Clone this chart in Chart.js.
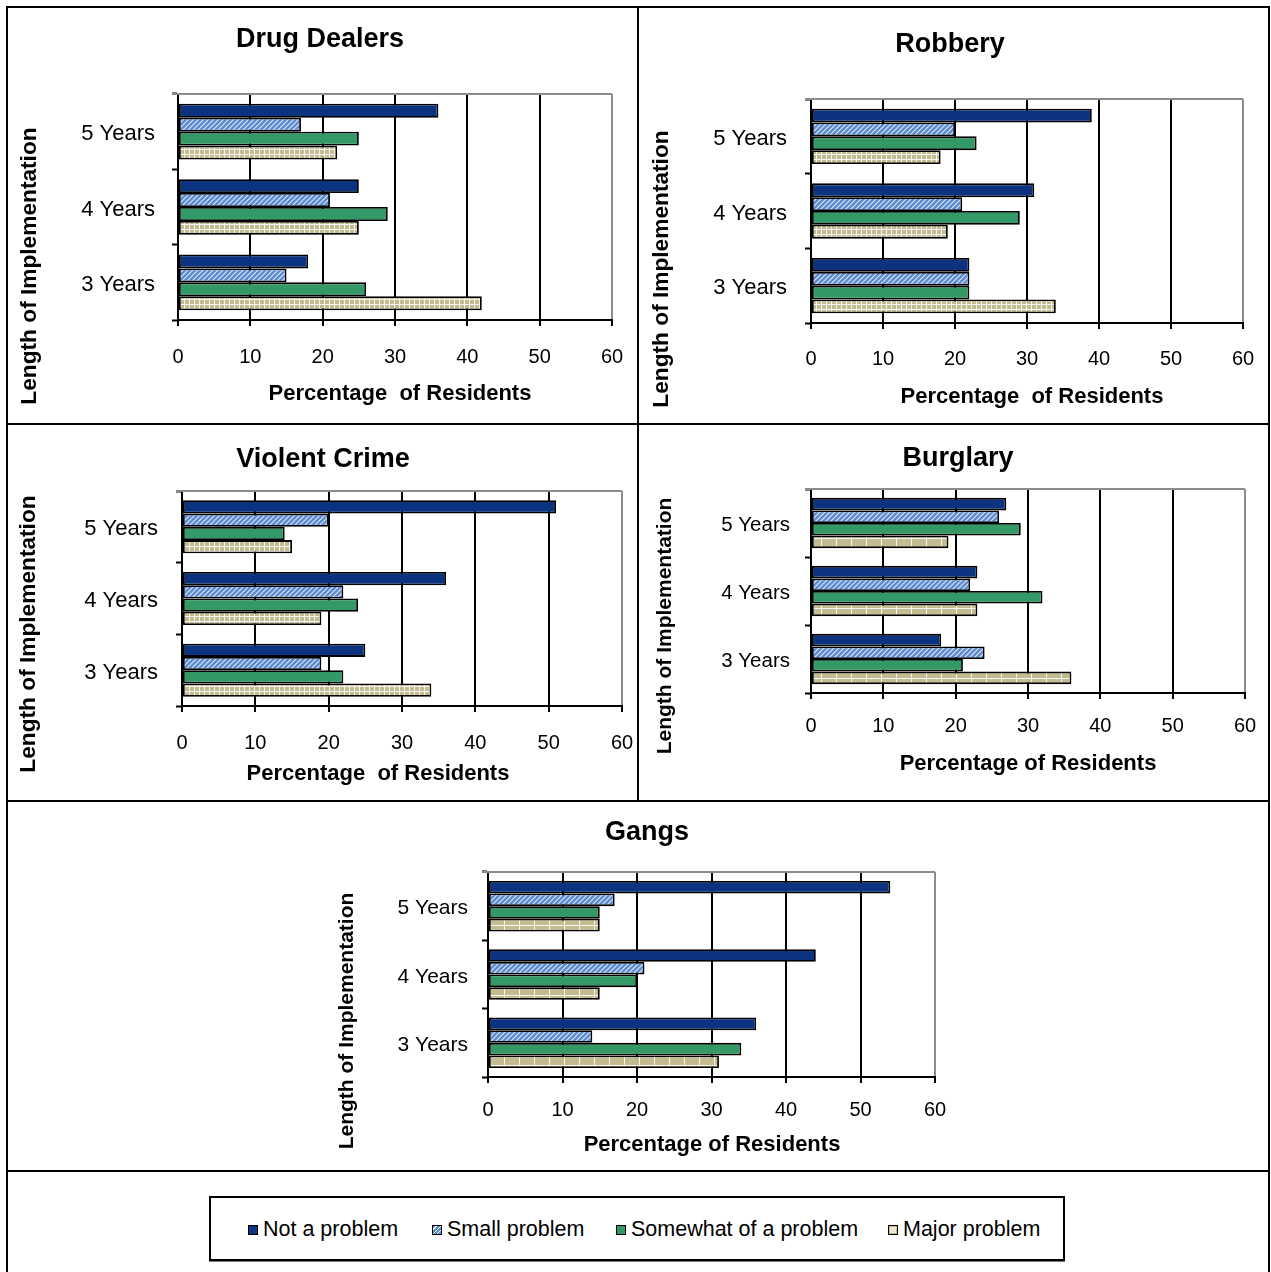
<!DOCTYPE html>
<html>
<head>
<meta charset="utf-8">
<title>Perceived problems by length of implementation</title>
<script src="https://cdn.jsdelivr.net/npm/chart.js@4.4.1/dist/chart.umd.min.js"></script>
<style>
  html, body { margin: 0; padding: 0; background: #fff; }
  body { width: 1271px; height: 1272px; position: relative; overflow: hidden;
         font-family: "Liberation Sans", Arial, sans-serif; }
  canvas { position: absolute; }
  .rule { position: absolute; background: #000; z-index: 2; }
  #legend { position: absolute; left: 209px; top: 1196px; width: 852px; height: 61px;
            border: 2px solid #000; box-shadow: 0 1px 0 #777; background: #fff; }
  .item { position: absolute; top: 1px; height: 61px; display: flex; align-items: center;
          font-size: 21.5px; color: #000; white-space: nowrap; }
  .sw { width: 8px; height: 8px; border: 1px solid #000; margin-right: 5px; }
</style>
</head>
<body>
<canvas id="cDrug"></canvas>
<canvas id="cRobbery"></canvas>
<canvas id="cViolent"></canvas>
<canvas id="cBurglary"></canvas>
<canvas id="cGangs"></canvas>

<!-- table rules -->
<div class="rule" style="left:6px;top:6px;width:1264px;height:2px"></div>
<div class="rule" style="left:6px;top:6px;width:2px;height:1266px"></div>
<div class="rule" style="left:1268px;top:6px;width:2px;height:1266px"></div>
<div class="rule" style="left:637px;top:6px;width:2px;height:796px"></div>
<div class="rule" style="left:6px;top:423px;width:1264px;height:2px"></div>
<div class="rule" style="left:6px;top:800px;width:1264px;height:2px"></div>
<div class="rule" style="left:6px;top:1170px;width:1264px;height:2px"></div>

<div id="legend"></div>

<script>
// ---- data ----
const categories = ['5 Years', '4 Years', '3 Years'];
const seriesNames = ['Not a problem', 'Small problem', 'Somewhat of a problem', 'Major problem'];
const xTickValues = [0, 10, 20, 30, 40, 50, 60];

const drugNot = [36, 25, 18];
const drugSmall = [17, 21, 15];
const drugSomewhat = [25, 29, 26];
const drugMajor = [22, 25, 42];

const robberyNot = [39, 31, 22];
const robberySmall = [20, 21, 22];
const robberySomewhat = [23, 29, 22];
const robberyMajor = [18, 19, 34];

const violentNot = [51, 36, 25];
const violentSmall = [20, 22, 19];
const violentSomewhat = [14, 24, 22];
const violentMajor = [15, 19, 34];

const burglaryNot = [27, 23, 18];
const burglarySmall = [26, 22, 24];
const burglarySomewhat = [29, 32, 21];
const burglaryMajor = [19, 23, 36];

const gangsNot = [54, 44, 36];
const gangsSmall = [17, 21, 14];
const gangsSomewhat = [15, 20, 34];
const gangsMajor = [15, 15, 31];

// ---- styling ----
const FONT = '"Liberation Sans", Arial, sans-serif';
const NAVY = '#0c3380';
const BLUE = '#5a8bd0';
const GREEN = '#339966';
const TAN = '#c3bc90';

function stripePattern(base, step) {
  const c = document.createElement('canvas');
  c.width = step; c.height = step;
  const g = c.getContext('2d');
  g.fillStyle = base; g.fillRect(0, 0, step, step);
  g.strokeStyle = 'rgba(255,255,255,0.8)';
  g.lineWidth = 1.1;
  g.beginPath();
  g.moveTo(-1, step + 1); g.lineTo(step + 1, -1);
  g.moveTo(-1, 1); g.lineTo(1, -1);
  g.moveTo(step - 1, step + 1); g.lineTo(step + 1, step - 1);
  g.stroke();
  return g.createPattern(c, 'repeat');
}

function gridPattern(base, w, h, hy) {
  const c = document.createElement('canvas');
  c.width = w; c.height = h;
  const g = c.getContext('2d');
  g.fillStyle = base; g.fillRect(0, 0, w, h);
  g.fillStyle = 'rgba(255,255,255,0.85)';
  g.fillRect(0, 0, 1, h);
  g.fillRect(0, hy, w, 1);
  return g.createPattern(c, 'repeat');
}

// gray top edge of the plot area
const plotFrame = {
  id: 'plotFrame',
  beforeDatasetsDraw(chart) {
    const a = chart.chartArea, ctx = chart.ctx;
    ctx.save();
    ctx.strokeStyle = '#8c8c8c';
    ctx.lineWidth = 2;
    ctx.beginPath();
    ctx.moveTo(a.left - 6, a.top);
    ctx.lineTo(a.right, a.top);
    ctx.stroke();
    ctx.restore();
  }
};

// axis titles placed at fixed spots inside each panel
const axisTitles = {
  id: 'axisTitles',
  afterDraw(chart, args, o) {
    const ctx = chart.ctx;
    ctx.save();
    ctx.fillStyle = '#000';
    ctx.textAlign = 'center';
    ctx.textBaseline = 'middle';
    ctx.font = 'bold ' + o.xSize + 'px ' + FONT;
    ctx.fillText(o.xText, o.xX, o.xY);
    ctx.translate(o.yX, o.yY);
    ctx.rotate(-Math.PI / 2);
    ctx.font = 'bold ' + o.ySize + 'px ' + FONT;
    ctx.fillText(o.yText, 0, 0);
    ctx.restore();
  }
};

function makeChart(id, s) {
  const cv = document.getElementById(id);
  cv.width = s.w; cv.height = s.h;
  cv.style.left = s.x0 + 'px'; cv.style.top = s.y0 + 'px';
  cv.style.width = s.w + 'px'; cv.style.height = s.h + 'px';

  const fills = [NAVY, stripePattern(BLUE, 5), GREEN, s.majorFill];
  const values = [s.not, s.small, s.somewhat, s.major];

  const datasets = seriesNames.map((name, i) => ({
    label: name,
    data: values[i],
    backgroundColor: fills[i],
    borderColor: '#000',
    borderWidth: 1.8,
    borderSkipped: false,
    categoryPercentage: 0.74,
    barPercentage: 1.0
  }));

  return new Chart(cv, {
    type: 'bar',
    data: { labels: categories, datasets },
    options: {
      indexAxis: 'y',
      responsive: false,
      animation: false,
      devicePixelRatio: 1,
      layout: { padding: { left: s.padL, right: s.padR, top: 0, bottom: 0 } },
      scales: {
        x: {
          type: 'linear',
          min: xTickValues[0],
          max: xTickValues[xTickValues.length - 1],
          afterBuildTicks: sc => { sc.ticks = xTickValues.map(v => ({ value: v })); },
          afterFit: sc => { sc.height = s.xH; sc.paddingLeft = 0; sc.paddingRight = 0; },
          ticks: { font: { family: FONT, size: 20 }, color: '#000', padding: s.tickPad },
          grid: {
            color: c => (c.tick && c.tick.value === 60) ? '#8c8c8c' : '#000',
            lineWidth: 2,
            tickColor: '#000',
            tickLength: 6,
            tickWidth: 2
          },
          border: { display: true, color: '#000', width: 2 }
        },
        y: {
          type: 'category',
          afterFit: sc => { sc.width = s.yW; sc.paddingTop = 0; sc.paddingBottom = 0; },
          ticks: { font: { family: FONT, size: s.catSize }, color: '#000', padding: s.catPad, labelOffset: 2.5 },
          grid: {
            offset: true,
            drawOnChartArea: false,
            drawTicks: true,
            tickLength: 6,
            tickColor: '#000',
            tickWidth: 2
          },
          border: { display: true, color: '#000', width: 2 }
        }
      },
      plugins: {
        legend: { display: false },
        tooltip: { enabled: false },
        title: {
          display: true,
          text: s.title,
          color: '#000',
          font: { family: FONT, size: 27, weight: 'bold', lineHeight: 1 },
          padding: { top: s.tpT + 2, bottom: s.tpB - 2 }
        },
        axisTitles: {
          xText: s.xText, xX: s.xTitle[0] - s.x0, xY: s.xTitle[1] - s.y0 + 2, xSize: s.xSize,
          yText: 'Length of Implementation', yX: s.yTitle[0] - s.x0, yY: s.yTitle[1] - s.y0, ySize: s.ySize
        }
      }
    },
    plugins: [plotFrame, axisTitles]
  });
}

const fineGrid = gridPattern(TAN, 5, 5, 0);
const wideGrid = gridPattern(TAN, 15, 10, 2);

makeChart('cDrug', {
  title: 'Drug Dealers', x0: 9, y0: 9, w: 628, h: 413,
  padL: 19, padR: 25, yW: 150, tpT: 15.5, tpB: 42.5, xH: 102,
  tickPad: 19, catPad: 17, catSize: 22,
  xText: 'Percentage  of Residents', xTitle: [400, 392], xSize: 22,
  yTitle: [30, 266], ySize: 22.7,
  not: drugNot, small: drugSmall, somewhat: drugSomewhat, major: drugMajor, majorFill: fineGrid
});

makeChart('cRobbery', {
  title: 'Robbery', x0: 641, y0: 9, w: 627, h: 413,
  padL: 16, padR: 25, yW: 154, tpT: 20.5, tpB: 42.5, xH: 99,
  tickPad: 18, catPad: 18, catSize: 22,
  xText: 'Percentage  of Residents', xTitle: [1032, 395], xSize: 22,
  yTitle: [662, 269], ySize: 22.7,
  not: robberyNot, small: robberySmall, somewhat: robberySomewhat, major: robberyMajor, majorFill: fineGrid
});

makeChart('cViolent', {
  title: 'Violent Crime', x0: 9, y0: 426, w: 628, h: 373,
  padL: 15, padR: 15, yW: 158, tpT: 18.5, tpB: 19.5, xH: 93,
  tickPad: 19, catPad: 18, catSize: 22,
  xText: 'Percentage  of Residents', xTitle: [378, 772], xSize: 22,
  yTitle: [29, 634], ySize: 22.7,
  not: violentNot, small: violentSmall, somewhat: violentSomewhat, major: violentMajor, majorFill: fineGrid
});

makeChart('cBurglary', {
  title: 'Burglary', x0: 641, y0: 426, w: 627, h: 373,
  padL: 30, padR: 23, yW: 140, tpT: 17.5, tpB: 18.5, xH: 106,
  tickPad: 15, catPad: 15, catSize: 20.5,
  xText: 'Percentage of Residents', xTitle: [1028, 762], xSize: 22,
  yTitle: [665, 626], ySize: 21,
  not: burglaryNot, small: burglarySmall, somewhat: burglarySomewhat, major: burglaryMajor, majorFill: wideGrid
});

makeChart('cGangs', {
  title: 'Gangs', x0: 9, y0: 803, w: 1259, h: 366,
  padL: 350, padR: 333, yW: 129, tpT: 14.5, tpB: 27.5, xH: 92,
  tickPad: 15, catPad: 14, catSize: 21,
  xText: 'Percentage of Residents', xTitle: [712, 1143], xSize: 22,
  yTitle: [347, 1021], ySize: 21,
  not: gangsNot, small: gangsSmall, somewhat: gangsSomewhat, major: gangsMajor, majorFill: wideGrid
});

// ---- shared legend ----
const legendLeft = [37, 221, 405, 677];
const legendSwatch = [
  NAVY,
  'repeating-linear-gradient(135deg, ' + BLUE + ' 0 2px, #fff 2px 3px)',
  GREEN,
  '#ebe7d3'
];
const legend = document.getElementById('legend');
seriesNames.forEach((name, i) => {
  const item = document.createElement('div');
  item.className = 'item';
  item.style.left = legendLeft[i] + 'px';
  const sw = document.createElement('span');
  sw.className = 'sw';
  sw.style.background = legendSwatch[i];
  if (i === 3) sw.style.boxShadow = 'inset 0 0 0 1px ' + TAN;
  item.appendChild(sw);
  item.appendChild(document.createTextNode(name));
  legend.appendChild(item);
});
</script>
</body>
</html>
